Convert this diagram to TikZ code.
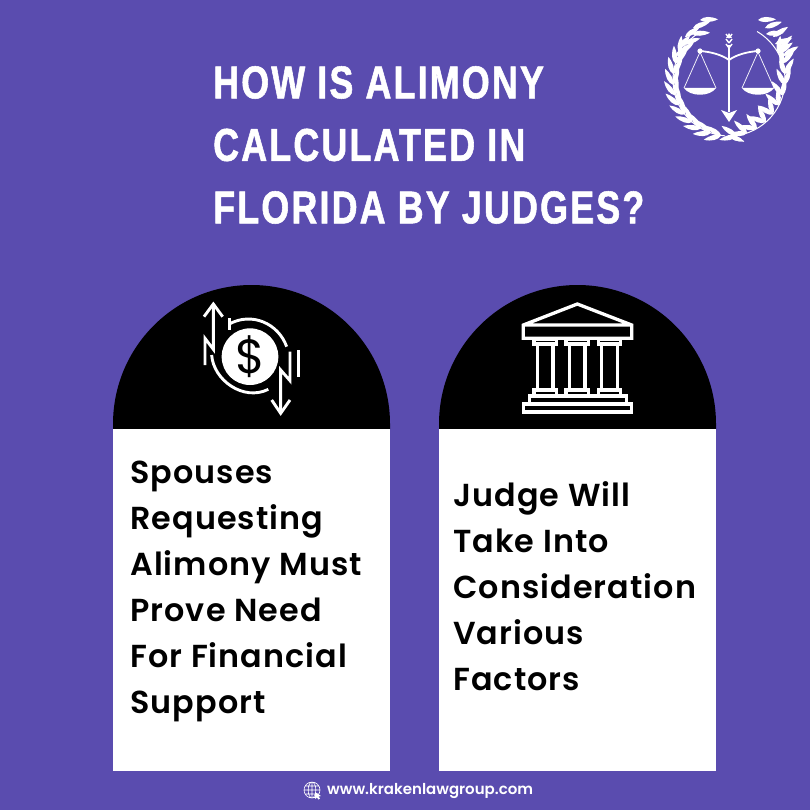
\documentclass[tikz,border=0pt]{standalone}
\usepackage{fontspec}
\setmainfont{Poppins}
\newfontfamily\titlefont[FakeStretch=0.78,LetterSpace=4.7,BoldFeatures={FakeBold=1.2}]{Liberation Sans}
\newfontfamily\cardfont[LetterSpace=3.4]{Poppins SemiBold}
\newfontfamily\footfont{Poppins SemiBold}
\definecolor{bgviolet}{HTML}{5A4CAF}
\tikzset{
  title/.style={font=\titlefont\bfseries\fontsize{46}{62.5}\selectfont,text=white,align=left,anchor=north west,inner sep=0pt},
  cardtext/.style={font=\cardfont\fontsize{31.8}{46}\selectfont,text=black,align=left,anchor=west,inner sep=0pt},
  footer/.style={font=\footfont\fontsize{15}{18}\selectfont,text=white,anchor=west,inner sep=0pt},
  icon/.style={draw=white,line width=2.9pt},
  temple/.style={draw=white,line width=3.3pt,line join=miter},
  leaf/.pic={\fill[white] (0,0) .. controls (4,-3.8) and (11,-3.6) .. (18,0) .. controls (11,3) and (4,3.2) .. (0,0) -- cycle;}
}
\newcommand{\card}[1]{
  \fill[black] (#1,429) -- (#1,424) arc (180:360:138.5 and 139) -- ++(0,5) -- cycle;
  \fill[white] (#1,429) rectangle ++(277,342);
}
\begin{document}
\begin{tikzpicture}[x=1pt,y=-1pt]
  \useasboundingbox (0,0) rectangle (810,810);
  \fill[bgviolet] (0,0) rectangle (810,810);
  % title
  \node[title] (heading) at (213,66) {HOW IS ALIMONY\\CALCULATED IN\\FLORIDA BY JUDGES?};
  % wreath
  \foreach \side in {1,-1}
  {
    \begin{scope}[shift={(729,80)},xscale=\side]
      \draw[white,line width=1pt] (94:56) arc (94:240:56);
      \foreach \a in {98,109,...,208}
      {
        \pic[rotate=-\a-90+22] at (\a:56) {leaf};
        \pic[rotate=-\a-90-24] at (\a:56) {leaf};
      };
      \foreach \x/\y/\r in {-51/-31/48,-54/-24/32,-44/-43/34,-46/-36/18,-36/-52/20,-37/-46/4,-29/-60/2}
        \pic[rotate=\r] at (\x,\y) {leaf};
      \pic[rotate=-20,scale=0.9] at (90:56) {leaf};
    \end{scope}
  };
  % scales
  \draw[white,line width=1.8pt] (700,51) .. controls (712,52) and (722,55) .. (729,60) .. controls (736,55) and (746,52) .. (758,51);
  \fill[white] (700,51) circle (2.6) (758,51) circle (2.6);
  \draw[white,line width=1.8pt] (729,45) -- (729,112);
  \fill[white] (729,122) -- (721,110) -- (729,113) -- (737,110) -- cycle;
  \foreach \h/\k in {-3/38,-3/43,-3/48,3/38,3/43,3/48}
    \draw[white,line width=1.4pt] (729,\k) -- ++(\h,-4);
  \fill[white] (729,33) -- (726,38) -- (732,38) -- cycle;
  \foreach \cx in {700,758}
  {
    \draw[white,line width=0.7pt] (\cx-16,88) -- (\cx,52) -- (\cx+16,88);
    \fill[white] (\cx-16,88) -- (\cx+16,88) .. controls (\cx+10,97) and (\cx-10,97) .. cycle;
  };
  % cards
  \card{113}
  \card{439}
  % money icon
  \begin{scope}[shift={(180,290)},scale=1/3]
    \fill[white] (210,200) circle (85);
    \node[font=\fontsize{48}{48}\selectfont,text=black,inner sep=0pt] (dollar) at (210,200) {\$};
    \draw[icon] (148,85) -- (148,120);
    \draw[icon] (148,102) .. controls (215,65) and (295,100) .. (320,170);
    \draw[icon] (95,195) .. controls (100,270) and (190,335) .. (265,298);
    \draw[icon] (72,80) -- (100,42) -- (128,80);
    \draw[icon] (100,42) -- (100,178) -- (75,145) -- (75,225);
    \draw[icon] (275,330) -- (302,370) -- (330,330);
    \draw[icon] (302,370) -- (302,240) -- (330,272) -- (330,185);
    \draw[icon] (355,180) -- (355,262);
  \end{scope}
  % temple icon
  \begin{scope}[shift={(510,290)},scale=1/3]
    \draw[temple] (40,105) -- (202,42) -- (365,105) -- (365,145) -- (40,145) -- cycle (40,105) -- (365,105);
    \foreach \x in {72,168,265}
    {
      \draw[temple] (\x,148) rectangle ++(67,14);
      \draw[temple] (\x+10,162) rectangle ++(47,138);
      \draw[temple] (\x,300) rectangle ++(67,18);
    };
    \draw[temple] (58,318) rectangle (350,342);
    \draw[temple] (40,342) rectangle (365,366);
  \end{scope}
  % card texts
  \node[cardtext] (needtext) at (130,591) {Spouses\\Requesting\\Alimony Must\\Prove Need\\For Financial\\Support};
  \node[cardtext] (judgetext) at (453,586) {Judge Will\\Take Into\\Consideration\\Various\\Factors};
  % footer
  \node[footer] (website) at (327,791) {www.krakenlawgroup.com};
  \begin{scope}[shift={(312,790)}]
    \draw[white,line width=0.6pt] (0,0) circle (8) (-8,0) -- (8,0) (0,-8) -- (0,8) (-7,-4) -- (7,-4) (-7,4) -- (7,4) (0,0) ellipse (3.8 and 8);
    \fill[white] (3,2) -- (3,9) -- (5,7.5) -- (6.5,9.5) -- (8,8.5) -- (6.5,6.5) -- (9,6) -- cycle;
  \end{scope}
\end{tikzpicture}
\end{document}
